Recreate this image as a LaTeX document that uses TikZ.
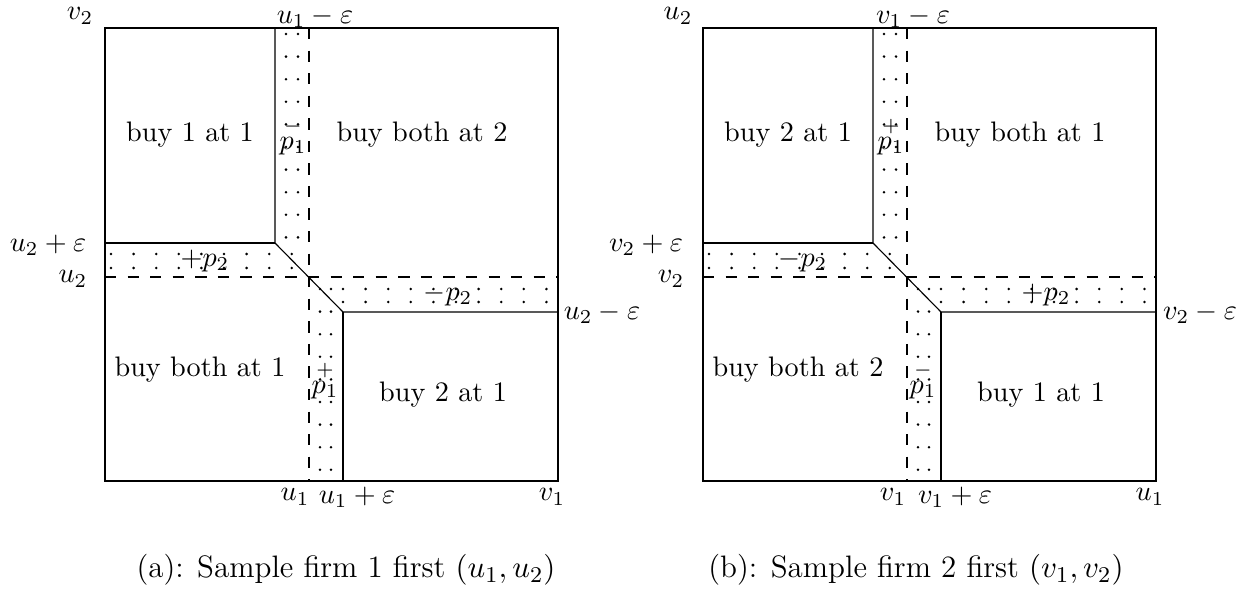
\documentclass[tikz,border=0pt]{standalone}
\usepackage{amsmath}
\usepackage{amssymb}
\usepackage{tikz}
\usetikzlibrary{positioning}

\begin{document}
\begin{tikzpicture}[
    x=0.3546pt, y=-0.3546pt,
    every node/.style={inner sep=0.5pt},
    border/.style={draw=black, line width=0.4pt},
    cutline/.style={draw=black, line width=0.4pt, dash pattern=on 4pt off 4pt},
    dotr/.style={fill=black},
    toplbl/.style={inner sep=0pt},
    capt/.style={font=\fontsize{11}{13}\selectfont}
  ]
  \useasboundingbox (0,0) rectangle (1253,599);

  % both squares share the same geometry
  \foreach \ox in {105,703} {
    \begin{scope}[shift={(\ox,28)}]
      \draw[border] (0,0) rectangle (453,453);
      % thresholds
      \draw[cutline] (204,0) -- (204,453);
      \draw[cutline] (0,249) -- (453,249);
      % region boundaries
      \draw[border] (170,0) -- (170,215) -- (238,284) -- (453,284);
      \draw[border] (0,215) -- (170,215);
      \draw[border] (238,284) -- (238,453);
      % dotted strips
      \foreach \k in {0,...,9}
        \fill[dotr] (181,{6+22.6*\k}) circle (0.5pt) (193,{6+22.6*\k}) circle (0.5pt);
      \foreach \k in {0,...,8}
        \fill[dotr] ({6+22.6*\k},226) circle (0.5pt) ({6+22.6*\k},240) circle (0.5pt);
      \foreach \k in {0,...,8}
        \fill[dotr] (215,{261+22.6*\k}) circle (0.5pt) (226,{261+22.6*\k}) circle (0.5pt);
      \foreach \k in {0,...,9}
        \fill[dotr] ({238+22.6*\k},261) circle (0.5pt) ({238+22.6*\k},274) circle (0.5pt);
    \end{scope}
  }

  % (a) labels
  \node[toplbl] (a-v2) at (80,16) {$v_2$};
  \node[toplbl] (a-u1me) at (315,17) {$u_1-\varepsilon$};
  \node (a-u2pe) at (48,245) {$u_2+\varepsilon$};
  \node (a-u2) at (73,279) {$u_2$};
  \node (a-u2me) at (602,313) {$u_2-\varepsilon$};
  \node (a-u1) at (295,497) {$u_1$};
  \node (a-u1pe) at (357,497) {$u_1+\varepsilon$};
  \node (a-v1) at (552,497) {$v_1$};
  \node (a-r1) at (190,135) {buy 1 at 1};
  \node (a-r2) at (422,135) {buy both at 2};
  \node (a-r3) at (200,370) {buy both at 1};
  \node (a-r4) at (443,395) {buy 2 at 1};
  \node (a-s1) at (293,136) {$\stackrel{-}{p_1}$};
  \node (a-s2) at (325,380) {$\stackrel{+}{p_1}$};
  \node (a-s3) at (205,261) {$+p_2$};
  \node (a-s4) at (448,295) {$-p_2$};
  \node[capt] (a-cap) at (346,570) {(a): Sample firm 1 first $(u_1,u_2)$};

  % (b) labels
  \node[toplbl] (b-u2) at (678,16) {$u_2$};
  \node[toplbl] (b-v1me) at (913,17) {$v_1-\varepsilon$};
  \node (b-v2pe) at (646,245) {$v_2+\varepsilon$};
  \node (b-v2) at (671,279) {$v_2$};
  \node (b-v2me) at (1200,313) {$v_2-\varepsilon$};
  \node (b-v1) at (893,497) {$v_1$};
  \node (b-v1pe) at (955,497) {$v_1+\varepsilon$};
  \node (b-u1) at (1150,497) {$u_1$};
  \node (b-r1) at (788,135) {buy 2 at 1};
  \node (b-r2) at (1020,135) {buy both at 1};
  \node (b-r3) at (798,370) {buy both at 2};
  \node (b-r4) at (1041,395) {buy 1 at 1};
  \node (b-s1) at (891,136) {$\stackrel{+}{p_1}$};
  \node (b-s2) at (923,380) {$\stackrel{-}{p_1}$};
  \node (b-s3) at (803,261) {$-p_2$};
  \node (b-s4) at (1046,295) {$+p_2$};
  \node[capt] (b-cap) at (916,570) {(b): Sample firm 2 first $(v_1,v_2)$};
\end{tikzpicture}
\end{document}
